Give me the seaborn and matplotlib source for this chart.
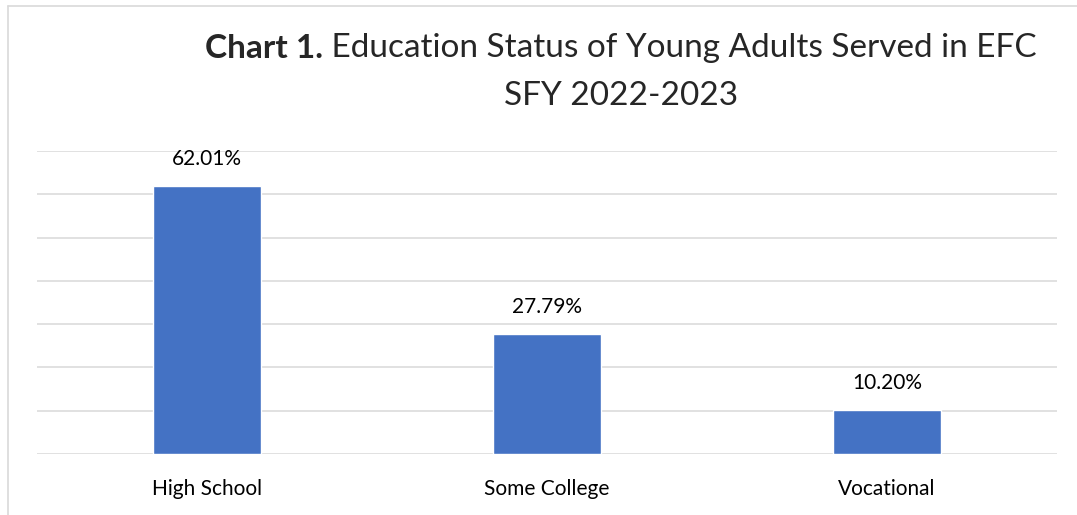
import matplotlib
matplotlib.use("Agg")
import matplotlib.pyplot as plt
import seaborn as sns
import pandas as pd
from matplotlib.lines import Line2D

categories = ["High School", "Some College", "Vocational"]
values = [62.01, 27.79, 10.20]
title_bold = "Chart 1."
title_rest = " Education Status of Young Adults Served in EFC"
title_line2 = "SFY 2022-2023"

sns.set_theme(style="white")
plt.rcParams["font.family"] = ["Lato", "DejaVu Sans"]

df = pd.DataFrame({"category": categories, "value": values})

W, H = 1077, 515
fig = plt.figure(figsize=(W / 100, H / 100), dpi=100)
ax = fig.add_axes([37 / W, (H - 454) / H, 1020 / W, 303 / H])

sns.barplot(data=df, x="category", y="value", color="#4472C4", width=0.315,
            saturation=1, ax=ax, zorder=3)

ax.set_ylim(0, 70)
ax.set_xlim(-0.5, 2.5)
ax.set_yticks(range(0, 71, 10))
ax.yaxis.grid(True, color="#d9d9d9", linewidth=1.1, zorder=0)
ax.set_yticklabels([])
ax.tick_params(axis="y", length=0)
ax.tick_params(axis="x", length=0, pad=18, labelsize=15, labelcolor="#000000")
ax.set_xlabel("")
ax.set_ylabel("")
for s in ax.spines.values():
    s.set_visible(False)

for c in ax.containers:
    ax.bar_label(c, labels=[f"{v:.2f}%" for v in values], padding=12,
                 fontsize=15, color="#000000")

# outer chart frame (left and top edges)
fig.add_artist(Line2D([7.5 / W, 7.5 / W], [0, 1 - 5.5 / H], transform=fig.transFigure,
                      color="#d9d9d9", linewidth=1.2))
fig.add_artist(Line2D([7.5 / W, 1], [1 - 5.5 / H, 1 - 5.5 / H], transform=fig.transFigure,
                      color="#d9d9d9", linewidth=1.2))

# title: bold prefix + regular text, centred as one line
fig.canvas.draw()
r = fig.canvas.get_renderer()
tsize = 24
y1 = 1 - 48 / H
t1 = fig.text(0, y1, title_bold, fontsize=tsize, fontweight="bold", va="center", ha="left")
t2 = fig.text(0, y1, title_rest, fontsize=tsize, va="center", ha="left")
w1 = t1.get_window_extent(r).width
w2 = t2.get_window_extent(r).width
x0 = 621 - (w1 + w2) / 2
t1.set_x(x0 / W)
t2.set_x((x0 + w1) / W)
fig.text(621 / W, 1 - 96 / H, title_line2, fontsize=tsize, va="center", ha="center")

fig.savefig("out.png", dpi=100)
